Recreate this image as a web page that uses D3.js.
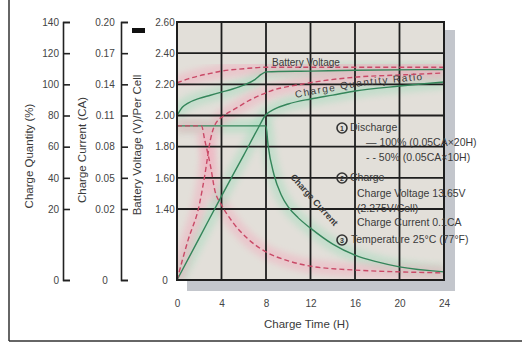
<!DOCTYPE html>
<html>
<head>
<meta charset="utf-8">
<script src="https://cdn.jsdelivr.net/npm/d3@7"></script>
<style>
  body { margin: 0; background: #fff; }
  svg { display: block; font-family: "Liberation Sans", Arial, sans-serif; }
  .tick text { fill: #444; font-size: 10px; }
  .axis path, .axis line { stroke: #222; stroke-width: 1.6; }
  .note { fill: #3a3a3a; font-size: 10.5px; }
</style>
</head>
<body>
<svg id="chart"></svg>
<script>
// tick values for the four axes
var timeTicks = [0, 4, 8, 12, 16, 20, 24]
var quantityTicks = [0, 20, 40, 60, 80, 100, 120, 140]
var currentTicks = [0, 0.02, 0.05, 0.08, 0.11, 0.14, 0.17, 0.20]
var voltageTicks = [0, 1.40, 1.60, 1.80, 2.00, 2.20, 2.40, 2.60]

// [hours, value]
// solid lines = 100% discharged, dashed lines = 50% discharged
var voltage100 = [[0, 2.00], [0.5, 2.055], [1, 2.08], [2, 2.11], [3, 2.13], [4, 2.15], [5, 2.17],
  [6, 2.195], [7, 2.23], [7.6, 2.265], [8, 2.28], [12, 2.285], [16, 2.29], [24, 2.295]]
var voltage50 = [[0, 2.21], [1, 2.235], [2, 2.255], [3, 2.27], [4, 2.285], [6, 2.30], [8, 2.31],
  [12, 2.31], [24, 2.31]]
var current100 = [[0, 0.10], [8, 0.10], [8.18, 0.082], [8.72, 0.053], [9.35, 0.034], [10, 0.022],
  [10.9, 0.0175], [12, 0.0146], [14, 0.0101], [16, 0.0070], [18, 0.0051], [20, 0.0037], [24, 0.0023]]
var current50 = [[0, 0.10], [2.2, 0.10], [2.5, 0.086], [3, 0.062], [3.4, 0.038], [4, 0.024],
  [5, 0.0163], [6.3, 0.0118], [8, 0.0079], [10, 0.0054], [12, 0.0039], [16, 0.0028], [20, 0.0023], [24, 0.0020]]
var quantity100 = [[0, 0], [2, 11.8], [4, 28.3], [6, 54.6], [7.3, 72], [7.9, 79.7], [8.8, 84.2],
  [10, 87.4], [12, 90.6], [14, 93.1], [16, 95.7], [20, 98.9], [24, 101.5]]
var quantity50 = [[0, 0], [1, 11.3], [2, 22.5], [2.5, 41.8], [3, 64.3], [3.4, 73.9], [4.3, 80.3],
  [5.2, 84.2], [6.4, 89.3], [7.5, 93.1], [8.4, 95.7], [11.3, 100.2], [16.2, 104.7], [20, 106], [24, 107.3]]

// magic numbers for the layout
var vis = {
  "width": 522,
  "height": 343,
  "plot": { "left": 177, "right": 444, "top": 22, "bottom": 280, "brk": 209 },
  "colors": {
    "bg": "#e2dfd9",
    "shadow": "#c3c6cc",
    "grid": "#1e1e1e",
    "green": "#34855a",
    "red": "#c94a67",
    "greenHalo": "#9fdcbb",
    "redHalo": "#f3a9bb"
  }
}

function main() {
  let p = vis.plot
  let c = vis.colors

  let svg = d3.select("#chart")
    .attr("width", vis.width)
    .attr("height", vis.height)

  svg.append("defs").append("filter")
    .attr("id", "soft")
    .attr("x", "-20%").attr("y", "-20%").attr("width", "140%").attr("height", "140%")
    .append("feGaussianBlur")
    .attr("stdDeviation", 3)

  // scales, the value axes are broken below the first labelled step
  let x = d3.scaleLinear().domain([0, 24]).range([p.left, p.right])
  let yQ = d3.scaleLinear().domain([0, 20, 140]).range([p.bottom, p.brk, p.top])
  let yC = d3.scaleLinear().domain([0, 0.02, 0.20]).range([p.bottom, p.brk, p.top])
  let yV = d3.scaleLinear().domain([0, 1.40, 2.60]).range([p.bottom, p.brk, p.top])

  // outer frame
  svg.append("line")
    .attr("x1", 9).attr("x2", 9).attr("y1", 0).attr("y2", 341)
    .attr("stroke", "#333").attr("stroke-width", 1.5)
  svg.append("line")
    .attr("x1", 9).attr("x2", vis.width).attr("y1", 341).attr("y2", 341)
    .attr("stroke", "#333").attr("stroke-width", 1.5)

  // drop shadow and plot background
  svg.append("rect")
    .attr("x", p.left + 10).attr("y", p.top + 8)
    .attr("width", p.right - p.left + 1).attr("height", p.bottom - p.top + 3)
    .attr("fill", c.shadow)
  svg.append("rect")
    .attr("x", p.left).attr("y", p.top)
    .attr("width", p.right - p.left).attr("height", p.bottom - p.top)
    .attr("fill", c.bg)

  let series = [
    { data: voltage100, y: yV, full: true },
    { data: voltage50, y: yV, full: false },
    { data: current100, y: yC, full: true },
    { data: current50, y: yC, full: false },
    { data: quantity100, y: yQ, full: true },
    { data: quantity50, y: yQ, full: false }
  ]

  function lineFor(s) {
    return d3.line()
      .x(function(d) { return x(d[0]) })
      .y(function(d) { return s.y(d[1]) })
      .curve(d3.curveMonotoneX)(s.data)
  }

  // soft coloured glow round every curve
  let clip = svg.select("defs").append("clipPath").attr("id", "plotclip")
  clip.append("rect")
    .attr("x", p.left).attr("y", p.top)
    .attr("width", p.right - p.left).attr("height", p.bottom - p.top)

  svg.append("g")
    .attr("clip-path", "url(#plotclip)")
    .selectAll("path")
    .data(series)
    .enter()
    .append("path")
    .attr("d", lineFor)
    .attr("fill", "none")
    .attr("stroke", function(d) { return d.full ? c.greenHalo : c.redHalo })
    .attr("stroke-width", 14)
    .attr("opacity", 0.45)
    .attr("filter", "url(#soft)")

  // grid
  let grid = svg.append("g")
  grid.selectAll(".v")
    .data(timeTicks)
    .enter()
    .append("line")
    .attr("x1", x).attr("x2", x)
    .attr("y1", p.top).attr("y2", p.bottom)
    .attr("stroke", c.grid).attr("stroke-width", 1.8)
  grid.selectAll(".h")
    .data(voltageTicks)
    .enter()
    .append("line")
    .attr("x1", p.left).attr("x2", p.right)
    .attr("y1", yV).attr("y2", yV)
    .attr("stroke", c.grid).attr("stroke-width", 1.8)

  // the curves
  svg.append("g")
    .selectAll("path")
    .data(series)
    .enter()
    .append("path")
    .attr("d", lineFor)
    .attr("fill", "none")
    .attr("stroke", function(d) { return d.full ? c.green : c.red })
    .attr("stroke-width", 1.4)
    .attr("stroke-dasharray", function(d) { return d.full ? null : "5,3" })

  // left axes: ticks point into the chart, labels on the left
  let fmt2 = function(d) { return d === 0 ? "0" : d3.format(".2f")(d) }

  let axQ = svg.append("g")
    .attr("class", "axis")
    .attr("transform", "translate(63,0)")
    .call(d3.axisLeft(yQ).tickValues(quantityTicks).tickSizeInner(-7).tickSizeOuter(-7).tickPadding(4))
  axQ.selectAll("text").attr("text-anchor", "end")

  let axC = svg.append("g")
    .attr("class", "axis")
    .attr("transform", "translate(121,0)")
    .call(d3.axisLeft(yC).tickValues(currentTicks).tickFormat(fmt2).tickSizeInner(-7).tickSizeOuter(-7))
  axC.selectAll("text").attr("text-anchor", "middle").attr("x", -16)

  let axV = svg.append("g")
    .attr("class", "axis")
    .attr("transform", "translate(" + p.left + ",0)")
    .call(d3.axisLeft(yV).tickValues(voltageTicks).tickFormat(fmt2).tickSize(0))
  axV.select(".domain").remove()
  axV.selectAll("text").attr("text-anchor", "middle").attr("x", -12)

  let axX = svg.append("g")
    .attr("class", "axis")
    .attr("transform", "translate(0," + p.bottom + ")")
    .call(d3.axisBottom(x).tickValues(timeTicks).tickSize(0).tickPadding(20))
  axX.select(".domain").remove()

  // plot border on top of everything inside
  svg.append("rect")
    .attr("x", p.left).attr("y", p.top)
    .attr("width", p.right - p.left).attr("height", p.bottom - p.top)
    .attr("fill", "none").attr("stroke", c.grid).attr("stroke-width", 2)

  // axis titles
  let titles = [
    { text: "Charge Quantity (%)", x: 30, y: 156 },
    { text: "Charge Current (CA)", x: 83, y: 150 },
    { text: "Battery Voltage (V)/Per Cell", x: 138, y: 145 }
  ]
  svg.selectAll(".ytitle")
    .data(titles)
    .enter()
    .append("text")
    .attr("transform", function(d) { return "translate(" + d.x + "," + d.y + ") rotate(-90)" })
    .attr("text-anchor", "middle")
    .attr("dominant-baseline", "middle")
    .attr("fill", "#3a3a3a")
    .style("font-size", "11.5px")
    .text(function(d) { return d.text })
  svg.append("rect").attr("x", 132).attr("y", 28).attr("width", 13).attr("height", 5).attr("fill", "#111")

  svg.append("text")
    .attr("x", (p.left + p.right) / 2 - 4).attr("y", 328)
    .attr("text-anchor", "middle")
    .attr("fill", "#3a3a3a")
    .style("font-size", "11.5px")
    .text("Charge Time (H)")

  // labels inside the plot
  svg.append("text")
    .attr("class", "note")
    .attr("x", 272).attr("y", 66)
    .style("font-size", "10px")
    .text("Battery Voltage")

  svg.append("text")
    .attr("class", "note")
    .attr("transform", "translate(312,202) rotate(48)")
    .attr("text-anchor", "middle")
    .style("font-size", "9px")
    .style("font-weight", "bold")
    .text("Charge Current")

  let ratioPath = d3.line()
    .x(function(d) { return x(d[0]) })
    .y(function(d) { return yQ(d[1]) - 4 })
    .curve(d3.curveMonotoneX)(quantity100.filter(function(d) { return d[0] >= 8.8 }))
  svg.select("defs").append("path").attr("id", "ratioPath").attr("d", ratioPath)
  svg.append("text")
    .attr("class", "note")
    .style("font-size", "10px")
    .append("textPath")
    .attr("href", "#ratioPath")
    .attr("startOffset", 22)
    .attr("textLength", 128)
    .attr("lengthAdjust", "spacing")
    .text("Charge Quantity Ratio")

  // notes on the right
  let notes = [
    { text: "Discharge", x: 350, y: 128 },
    { text: "— 100% (0.05CA×20H)", x: 366, y: 143 },
    { text: "- - 50% (0.05CA×10H)", x: 366, y: 158 },
    { text: "Charge", x: 350, y: 178 },
    { text: "Charge Voltage 13.65V", x: 357, y: 194 },
    { text: "(2.275V/Cell)", x: 357, y: 209 },
    { text: "Charge Current 0.1CA", x: 357, y: 223 },
    { text: "Temperature 25°C (77°F)", x: 351, y: 240 }
  ]
  svg.selectAll(".notes")
    .data(notes)
    .enter()
    .append("text")
    .attr("class", "note")
    .attr("x", function(d) { return d.x })
    .attr("y", function(d) { return d.y })
    .attr("dominant-baseline", "middle")
    .text(function(d) { return d.text })

  let marks = [{ n: "1", y: 128 }, { n: "2", y: 178 }, { n: "3", y: 240 }]
  let mk = svg.selectAll(".mark")
    .data(marks)
    .enter()
    .append("g")
    .attr("transform", function(d) { return "translate(342," + d.y + ")" })
  mk.append("circle")
    .attr("r", 5)
    .attr("fill", "none")
    .attr("stroke", "#333")
    .attr("stroke-width", 1.6)
  mk.append("text")
    .attr("text-anchor", "middle")
    .attr("dominant-baseline", "central")
    .attr("fill", "#333")
    .style("font-size", "7px")
    .style("font-weight", "bold")
    .text(function(d) { return d.n })
}

main()
</script>
</body>
</html>
